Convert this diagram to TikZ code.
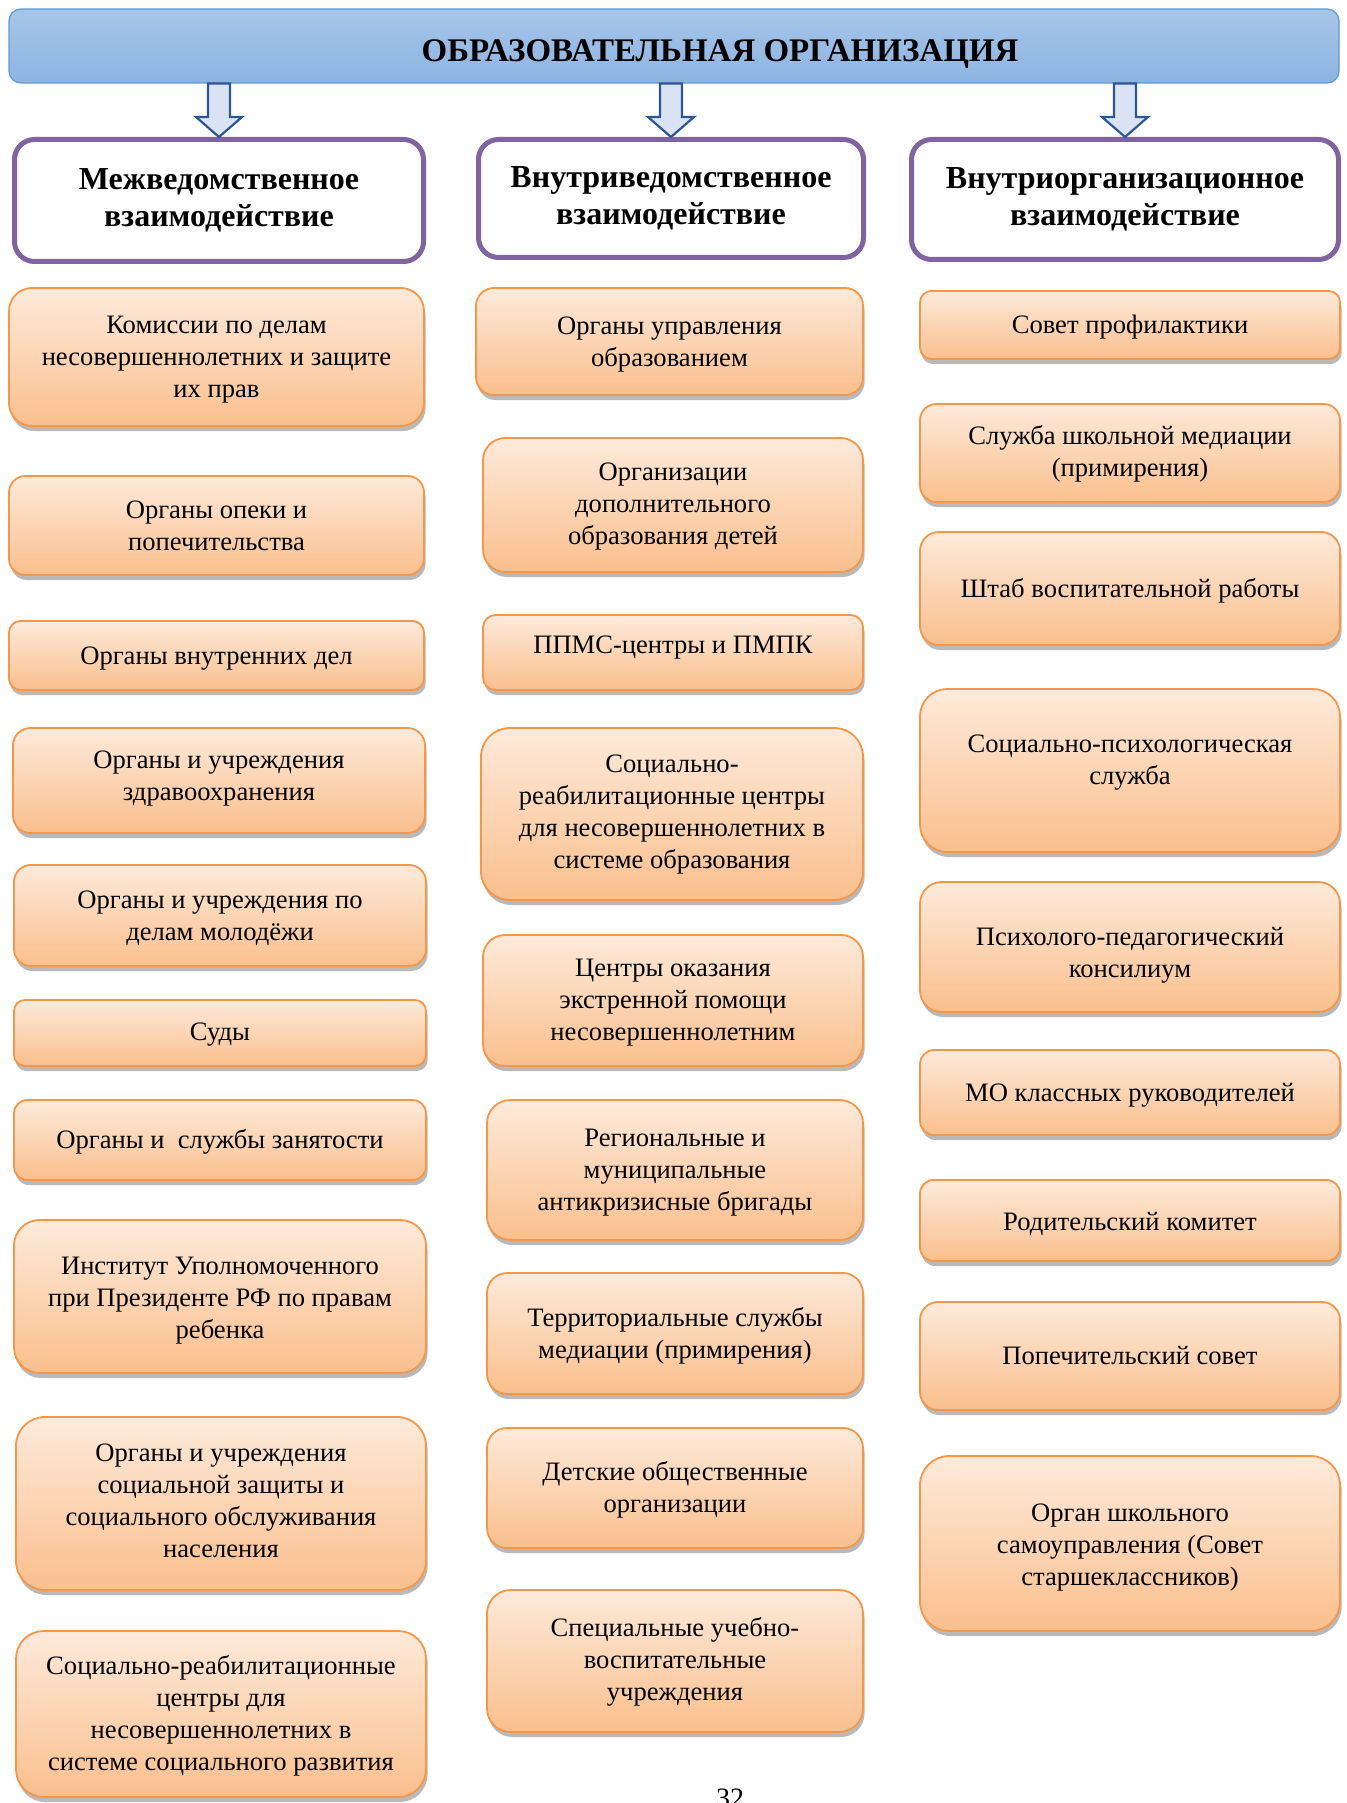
\documentclass[tikz,border=0pt]{standalone}
\usepackage{fontspec}
\setmainfont{Liberation Serif}
\usetikzlibrary{shadows,calc,backgrounds}
\definecolor{otop}{RGB}{253,234,218}
\definecolor{obot}{RGB}{250,191,141}
\definecolor{oline}{RGB}{247,150,70}
\definecolor{btop}{RGB}{166,197,232}
\definecolor{bbot}{RGB}{141,180,226}
\definecolor{bline}{RGB}{91,155,213}
\definecolor{purp}{RGB}{128,100,162}
\definecolor{afill}{RGB}{218,227,243}
\definecolor{aline}{RGB}{47,85,151}
\definecolor{cline}{RGB}{68,114,196}
\tikzset{
  obox/.style={draw=oline, line width=0.9pt, top color=otop, bottom color=obot,
    drop shadow={shadow xshift=0.8pt, shadow yshift=-2.5pt, fill=black!50, opacity=0.55},
    align=center, font=\fontsize{13.3}{16}\selectfont, inner sep=0pt},
  hbox/.style={draw=purp, line width=2.5pt, fill=white, rounded corners=10pt,
    align=center, font=\bfseries\fontsize{16}{18.5}\selectfont, inner sep=0pt},
  banner/.style={draw=bline, line width=0.6pt, top color=btop, bottom color=bbot,
    rounded corners=6pt, font=\bfseries\fontsize{16.5}{19}\selectfont, inner sep=0pt},
  bigarrow/.style={draw=aline, line width=1.1pt, fill=afill, line join=miter},
  conn/.style={draw=cline, line width=0.6pt},
  pagenum/.style={font=\fontsize{14}{16}\selectfont, inner sep=0pt},
}
% #1 text shift down in pt, #2 name, #3..#6 corners (px), #7 text
\newcommand\obx[7][0]{%
  \pgfmathsetmacro\myW{(#5-#3)*0.5}\pgfmathsetmacro\myH{(#6-#4)*0.5}%
  \pgfmathsetmacro\myR{min(\myW,\myH)*0.1667}%
  \pgfmathsetmacro\myS{#1}%
  \pgfmathsetmacro\myT{9.3+2*max(\myS,0)}\pgfmathsetmacro\myD{3.2+2*max(-\myS,0)}%
  \node[obox, minimum width=\myW pt, minimum height=\myH pt, rounded corners=\myR pt]
    (#2) at ({(#3+#5)/2},{(#4+#6)/2})
    {\rule{0pt}{\myT pt}#7\rule[-\myD pt]{0pt}{\myD pt}};}
\newcommand\hbx[6]{%
  \pgfmathsetmacro\myW{(#4-#2)*0.5}\pgfmathsetmacro\myH{(#5-#3)*0.5}%
  \node[hbox, minimum width=\myW pt, minimum height=\myH pt]
    (#1) at ({(#2+#4)/2},{(#3+#5)/2}) {#6};}
\newcommand\cn[3]{\draw[conn]
  (perpendicular cs: horizontal line through={(#1.south)}, vertical line through={(#3,0)}) --
  (perpendicular cs: horizontal line through={(#2.north)}, vertical line through={(#3,0)});}
\newcommand\bigarr[2]{\draw[bigarrow] let \p1=(#2.north), \p2=(#1.south) in
  (\p1) -- (\x1-11.5pt,\y1+10pt) -- (\x1-5.5pt,\y1+10pt) -- (\x1-5.5pt,\y2) --
  (\x1+5.5pt,\y2) -- (\x1+5.5pt,\y1+10pt) -- (\x1+11.5pt,\y1+10pt) -- cycle;}
\begin{document}
\begin{tikzpicture}[x=0.5pt,y=-0.5pt]
\useasboundingbox (0,0) rectangle (1347,1803);
\clip (0,0) rectangle (1347,1803);
\fill[white] (0,0) rectangle (1347,1803);

% banner
\node[banner, minimum width=665pt, minimum height=37pt] (B) at (674,46)
  {\hspace*{46pt}\raisebox{-8pt}[0pt][0pt]{ОБРАЗОВАТЕЛЬНАЯ ОРГАНИЗАЦИЯ}};

% headers
\hbx{H1}{14.5}{139.5}{423.5}{261.5}{Межведомственное\\взаимодействие}
\hbx{H2}{478.5}{139.5}{863.5}{257.5}{Внутриведомственное\\взаимодействие}
\hbx{H3}{911.5}{139.5}{1338.5}{259.5}{Внутриорганизационное\\взаимодействие}

\bigarr{B}{H1}
\bigarr{B}{H2}
\bigarr{B}{H3}

% column 1
\obx[1.3]{L1}{9}{288}{424}{426}{Комиссии по делам\\несовершеннолетних и защите\\их прав}
\obx[1.3]{L2}{9}{476}{424}{575}{Органы опеки и\\попечительства}
\obx[1.3]{L3}{9}{621}{424}{690}{Органы внутренних дел}
\obx[-1.0]{L4}{13}{728}{425}{833}{Органы и учреждения\\здравоохранения}
\obx[1.3]{L5}{14}{865}{426}{966}{Органы и учреждения по\\делам молодёжи}
\obx[0.75]{L6}{14}{1000}{426}{1066}{Суды}
\obx[1.3]{L7}{14}{1100}{426}{1180}{Органы и\ \ службы занятости}
\obx[1.75]{L8}{14}{1220}{426}{1373}{Институт Уполномоченного\\при Президенте РФ по правам\\ребенка}
\obx[0.1]{L9}{16}{1417}{426}{1590}{Органы и учреждения\\социальной защиты и\\социального обслуживания\\населения}
\obx[1.0]{L10}{16}{1631}{426}{1797}{Социально-реабилитационные\\центры для\\несовершеннолетних в\\системе социального развития}

% column 2
\obx[1.3]{M1}{476}{288}{863}{395}{Органы управления\\образованием}
\obx[0.75]{M2}{483}{438}{863}{572}{Организации\\дополнительного\\образования детей}
\obx[-2.75]{M3}{483}{615}{863}{690}{ППМС-центры и ПМПК}
\obx[0.2]{M4}{481}{728}{863}{900}{Социально-\\реабилитационные центры\\для несовершеннолетних в\\системе образования}
\obx[0.9]{M5}{483}{935}{863}{1066}{Центры оказания\\экстренной помощи\\несовершеннолетним}
\obx[1.15]{M6}{487}{1100}{863}{1240}{Региональные и\\муниципальные\\антикризисные бригады}
\obx[1.3]{M7}{487}{1273}{863}{1394}{Территориальные службы\\медиации (примирения)}
\obx[1.3]{M8}{487}{1428}{863}{1548}{Детские общественные\\организации}
\obx[0.65]{M9}{487}{1590}{863}{1732}{Специальные учебно-\\воспитательные\\учреждения}

% column 3
\obx[1.3]{R1}{920}{291}{1340}{359}{Совет профилактики}
\obx[0.75]{R2}{920}{404}{1340}{502}{Служба школьной медиации\\(примирения)}
\obx[1.3]{R3}{920}{532}{1340}{645}{Штаб воспитательной работы}
\obx[-3.9]{R4}{920}{689}{1340}{852}{Социально-психологическая\\служба}
\obx[4.2]{R5}{920}{882}{1340}{1012}{Психолого-педагогический\\консилиум}
\obx[1.3]{R6}{920}{1050}{1340}{1135}{МО классных руководителей}
\obx[1.85]{R7}{920}{1180}{1340}{1261}{Родительский комитет}
\obx[1.3]{R8}{920}{1302}{1340}{1410}{Попечительский совет}
\obx[1.9]{R9}{920}{1456}{1340}{1631}{Орган школьного\\самоуправления (Совет\\старшеклассников)}

\node[pagenum, anchor=north] (pg) at (730,1789) {32};

\begin{pgfonlayer}{background}
\cn{H1}{L1}{229}\cn{L1}{L2}{230}\cn{L2}{L3}{231}\cn{L3}{L4}{232}\cn{L4}{L5}{233}
\cn{L5}{L6}{234}\cn{L6}{L7}{235}\cn{L7}{L8}{236}\cn{L8}{L9}{237}\cn{L9}{L10}{238}
\cn{H2}{M1}{679}\cn{M1}{M2}{680}\cn{M2}{M3}{681}\cn{M3}{M4}{682}\cn{M4}{M5}{684}
\cn{M5}{M6}{685}\cn{M6}{M7}{686}\cn{M7}{M8}{687}\cn{M8}{M9}{688}
\cn{H3}{R1}{1142}\cn{R1}{R2}{1142}\cn{R2}{R3}{1142}\cn{R3}{R4}{1143}\cn{R4}{R5}{1143}
\cn{R5}{R6}{1144}\cn{R6}{R7}{1144}\cn{R7}{R8}{1145}\cn{R8}{R9}{1145}
\end{pgfonlayer}
\end{tikzpicture}
\end{document}
